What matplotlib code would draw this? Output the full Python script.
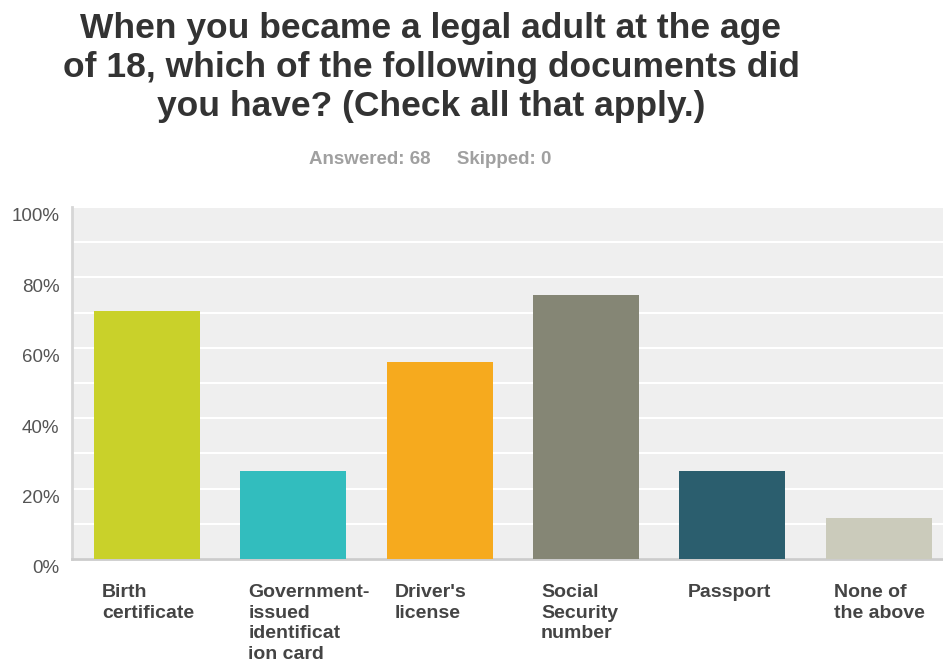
import numpy as np
import matplotlib
matplotlib.use("Agg")
import matplotlib.pyplot as plt
import matplotlib.transforms as mtransforms
from matplotlib.ticker import MultipleLocator, FuncFormatter

plt.rcParams['font.family'] = ['Liberation Sans', 'DejaVu Sans']

# survey answers, share of 68 respondents
categories = ["Birth\ncertificate", "Government-\nissued\nidentificat\nion card",
              "Driver's\nlicense", "Social\nSecurity\nnumber", "Passport",
              "None of\nthe above"]
values = [70.59, 25.0, 55.88, 75.0, 25.0, 11.76]
colors = ["#c9d12a", "#32bdbe", "#f6aa1e", "#858675", "#2b5e6e", "#cbcbbb"]

fig = plt.figure(figsize=(9.43, 6.66), dpi=100)
ax = fig.add_axes([0.0764, 0.1607, 0.9236, 0.5285])
ax.set_facecolor("#efefef")

bw = 0.724
x = np.arange(len(categories))
ax.bar(x, values, width=bw, color=colors, zorder=3)

ax.set_xlim(-0.512, 5.44)
ax.set_ylim(0, 100)
ax.yaxis.set_major_locator(MultipleLocator(20))
ax.yaxis.set_minor_locator(MultipleLocator(10))
ax.yaxis.set_major_formatter(FuncFormatter(lambda v, p: "%d%%" % v))
ax.grid(which="both", axis="y", color="white", linewidth=1.5, zorder=1)
ax.set_xticks([])
ax.tick_params(axis="y", which="both", length=0, pad=9, labelsize=13.5,
               labelcolor="#555555")
off = mtransforms.ScaledTranslation(0, -8 / 100, fig.dpi_scale_trans)
for lbl in ax.get_yticklabels():
    lbl.set_transform(lbl.get_transform() + off)

for s in ["top", "right"]:
    ax.spines[s].set_visible(False)
ax.spines["left"].set_color("#d6d6d6")
ax.spines["left"].set_linewidth(2)
ax.spines["bottom"].set_color("#cccccc")
ax.spines["bottom"].set_linewidth(2)

# category labels, left aligned under each bar
lbl_off = mtransforms.ScaledTranslation(8 / 100, 0, fig.dpi_scale_trans)
for xi, name in zip(x, categories):
    ax.text(xi - bw / 2, -7.2, name, ha="left", va="top", fontsize=14,
            fontweight="bold", color="#444444", linespacing=1.27,
            transform=ax.transData + lbl_off, clip_on=False)

fig.text(0.457, 0.982, "When you became a legal adult at the age\n"
         "of 18, which of the following documents did\n"
         "you have? (Check all that apply.)",
         ha="center", va="top", fontsize=25.5, fontweight="bold",
         color="#333333", linespacing=1.24)
fig.text(0.456, 0.760, "Answered: 68     Skipped: 0", ha="center", va="center",
         fontsize=13.5, fontweight="bold", color="#a0a0a0")

fig.savefig("out.png", dpi=100)
